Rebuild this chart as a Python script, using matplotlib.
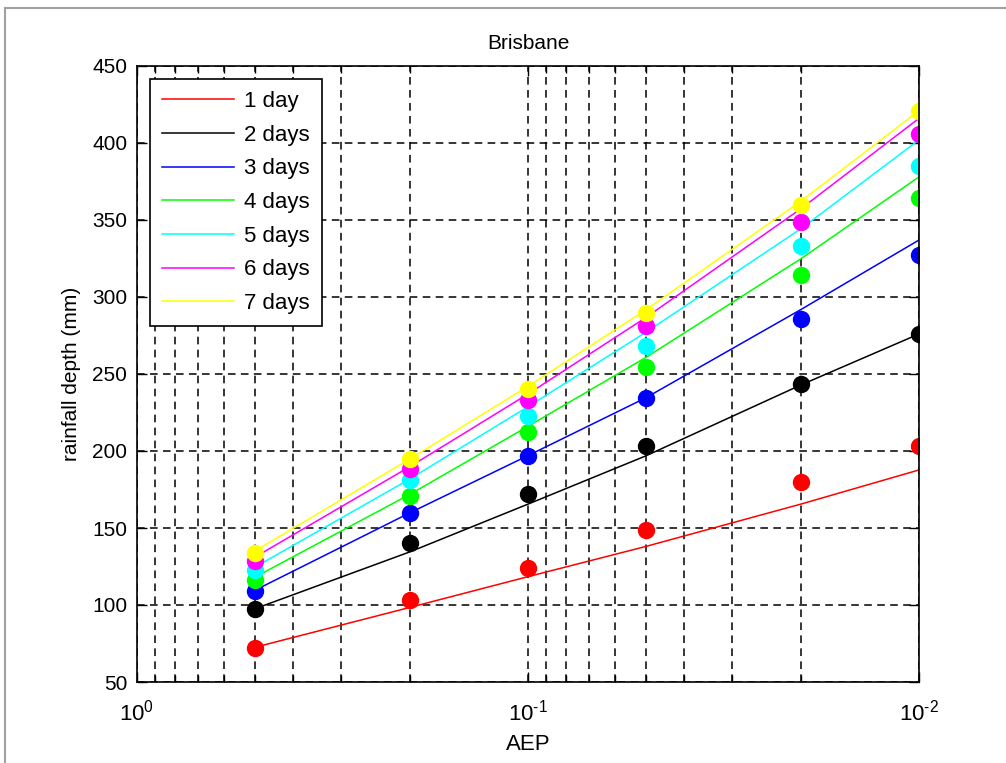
import numpy as np
import matplotlib
matplotlib.use("Agg")
from matplotlib import pyplot as plt
from matplotlib.lines import Line2D
from matplotlib.ticker import LogLocator, NullFormatter, FuncFormatter

plt.rcParams['font.family'] = ['Liberation Sans', 'DejaVu Sans']
plt.rcParams['mathtext.default'] = 'regular'

# AEP values (annual exceedance probability)
aep = [0.5, 0.2, 0.1, 0.05, 0.02, 0.01]

labels = ['1 day', '2 days', '3 days', '4 days', '5 days', '6 days', '7 days']
colors = ['#ff0000', '#000000', '#0000ff', '#00ff00', '#00ffff', '#ff00ff', '#ffff00']

# observed rainfall depth (mm), markers
obs_1 = [72, 103, 124, 149, 180, 203]
obs_2 = [97.5, 140.5, 172, 203, 243.5, 276]
obs_3 = [109, 159.5, 197, 234.5, 285.5, 327.5]
obs_4 = [116.5, 171, 212.5, 254.5, 314, 364]
obs_5 = [122.5, 181, 222.5, 268, 333, 385]
obs_6 = [128.5, 188, 233, 281, 349, 406]
obs_7 = [134, 194.5, 240.5, 289.5, 360, 421]

# fitted rainfall depth (mm), lines
fit_1 = [72.5, 98.5, 118.4, 138, 165.6, 187.7]
fit_2 = [97.5, 134.6, 165.5, 196.8, 243, 276]
fit_3 = [109.5, 160, 197, 234.5, 292, 337]
fit_4 = [118, 172, 216, 260.7, 325, 378]
fit_5 = [124.5, 182, 228.8, 277, 344.5, 402]
fit_6 = [131, 190, 237, 286.6, 357.5, 416]
fit_7 = [135, 195, 242, 291.6, 362.4, 421]

obs = [obs_1, obs_2, obs_3, obs_4, obs_5, obs_6, obs_7]
fit = [fit_1, fit_2, fit_3, fit_4, fit_5, fit_6, fit_7]


def pow10_label(v, pos):
    # matlab style 10^-1, with a short hyphen
    e = str(int(round(np.log10(v)))).replace('-', '\u2010')
    return '$10^{%s}$' % e


fig = plt.figure(figsize=(10.06, 7.63), dpi=100)
ax = fig.add_axes([137 / 1006, 81 / 763, 782 / 1006, 616 / 763])

handles = []
for o, f, c, lab in zip(obs, fit, colors, labels):
    h, = ax.plot(aep, f, color=c, lw=1.1, label=lab)
    ax.plot(aep, o, 'o', color=c, ms=11.5, mec=c)
    handles.append(h)

ax.set_xscale('log')
ax.set_xlim(1, 0.01)
ax.set_ylim(50, 450)
ax.set_yticks(np.arange(50, 451, 50))
ax.xaxis.set_major_locator(LogLocator(base=10, numticks=5))
ax.xaxis.set_major_formatter(FuncFormatter(pow10_label))
ax.xaxis.set_minor_locator(LogLocator(base=10, subs=np.arange(2, 10), numticks=10))
ax.xaxis.set_minor_formatter(NullFormatter())

grid_style = dict(color='black', linestyle=(0, (5, 3.5)), linewidth=1.1)
ax.grid(True, which='major', axis='both', **grid_style)
ax.grid(True, which='minor', axis='x', **grid_style)

ax.tick_params(which='both', direction='in', top=True, right=True, labelsize=15)
ax.tick_params(which='major', length=7, width=1)
ax.tick_params(which='minor', length=5, width=1)
ax.tick_params(axis='y', pad=7)
ax.tick_params(axis='x', which='major', pad=13, labelsize=16)
for s in ax.spines.values():
    s.set_linewidth(1.2)

ax.set_title('Brisbane', fontsize=15, pad=12)
ax.set_xlabel('AEP', fontsize=16, labelpad=6)
ax.set_ylabel('rainfall depth (mm)', fontsize=15, labelpad=8)

leg = ax.legend(handles=handles, loc='upper left', fontsize=16, fancybox=False,
                edgecolor='black', framealpha=1, handlelength=3.25,
                handletextpad=0.45, labelspacing=0.57, borderpad=0.55,
                borderaxespad=0.58)
leg.get_frame().set_linewidth(1.2)

# window border of the screenshot
fig.add_artist(Line2D([5 / 1006, 5 / 1006], [0, 1 - 8 / 763], color='#a0a0a0', lw=1.5))
fig.add_artist(Line2D([5 / 1006, 1], [1 - 8 / 763, 1 - 8 / 763], color='#a0a0a0', lw=1.5))

fig.savefig('out.png', dpi=100)
